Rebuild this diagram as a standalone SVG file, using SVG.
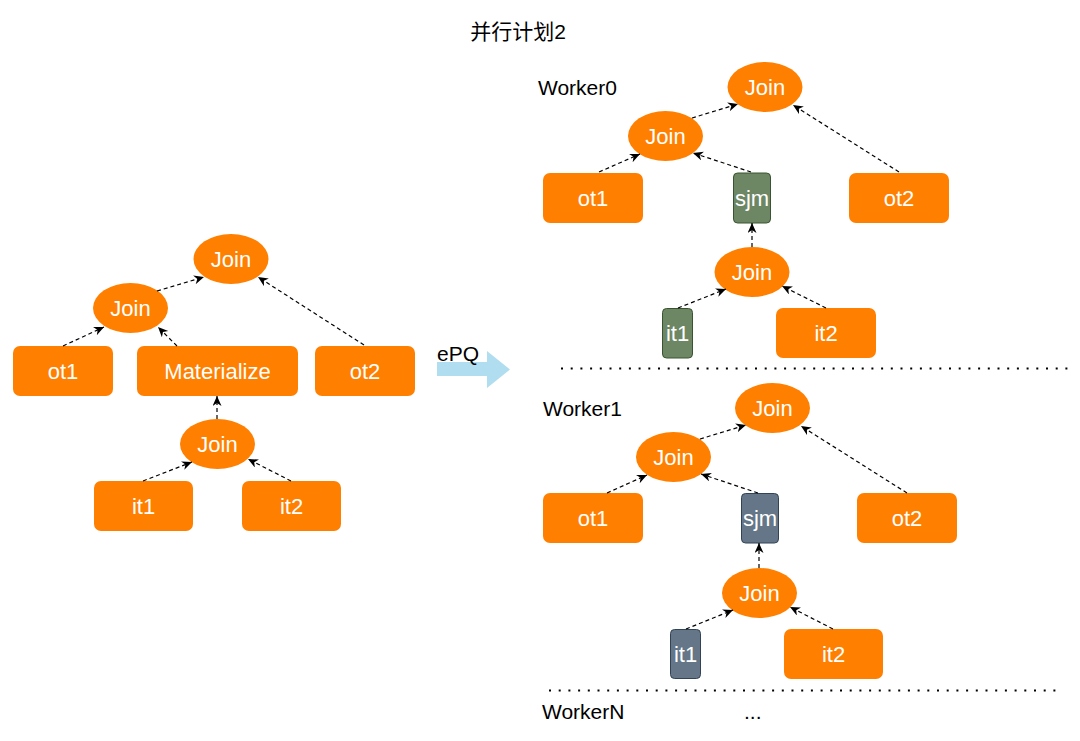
<svg xmlns="http://www.w3.org/2000/svg" width="1080" height="741" viewBox="0 0 1080 741">
<style>
.n{fill:#ff7f00;stroke:none}
.g{fill:#6d8764;stroke:#3a5431;stroke-width:1}
.b{fill:#647687;stroke:#314354;stroke-width:1}
.t{font-family:"Liberation Sans",Arial,sans-serif;font-size:22px;fill:#ffffff;text-anchor:middle;dominant-baseline:central}
.l{font-family:"Liberation Sans","Noto Sans CJK SC",sans-serif;font-size:21px;fill:#000000;dominant-baseline:central}
.e{fill:none;stroke:#000;stroke-width:1.2;stroke-dasharray:4 3;marker-end:url(#ah)}
.d{fill:none;stroke:#000;stroke-width:2;stroke-dasharray:2 7.7}
</style>
<defs>
<marker id="ah" markerUnits="userSpaceOnUse" markerWidth="12" markerHeight="10" refX="10" refY="4.5" orient="auto">
<path d="M0,0 L10,4.5 L0,9 L3,4.5 Z" fill="#000"/>
</marker>
</defs>
<rect width="1080" height="741" fill="#fff"/>
<text class="l" x="518" y="31" text-anchor="middle">并行计划2</text>

<g id="left">
<g id="L-join-top"><ellipse class="n" cx="231" cy="259" rx="37.5" ry="25"/><text class="t" x="231" y="259">Join</text></g>
<g id="L-join-mid"><ellipse class="n" cx="130.5" cy="308" rx="37.5" ry="25"/><text class="t" x="130.5" y="308">Join</text></g>
<g id="L-ot1"><rect class="n" x="13" y="346" width="100" height="50" rx="7"/><text class="t" x="63" y="371">ot1</text></g>
<g id="L-mat"><rect class="n" x="137" y="346" width="161" height="50" rx="7"/><text class="t" x="217.5" y="371">Materialize</text></g>
<g id="L-ot2"><rect class="n" x="315" y="346" width="100" height="50" rx="7"/><text class="t" x="365" y="371">ot2</text></g>
<g id="L-join-bot"><ellipse class="n" cx="217.5" cy="444" rx="37.5" ry="25"/><text class="t" x="217.5" y="444">Join</text></g>
<g id="L-it1"><rect class="n" x="94" y="481" width="99" height="50" rx="7"/><text class="t" x="143.5" y="506">it1</text></g>
<g id="L-it2"><rect class="n" x="242" y="481" width="99" height="50" rx="7"/><text class="t" x="291.5" y="506">it2</text></g>
</g>

<g id="epq">
<path d="M437,362 L487,362 L487,351 L510,369.5 L487,388 L487,376 L437,376 Z" fill="#b1ddf0"/>
<text class="l" x="437" y="353">ePQ</text>
</g>

<g id="worker0">
<text class="l" x="538" y="87">Worker0</text>
<g id="W0-join-top"><ellipse class="n" cx="765" cy="87" rx="37.5" ry="25"/><text class="t" x="765" y="87">Join</text></g>
<g id="W0-join-mid"><ellipse class="n" cx="665.5" cy="136" rx="37.5" ry="25"/><text class="t" x="665.5" y="136">Join</text></g>
<g id="W0-ot1"><rect class="n" x="543" y="173" width="100" height="50" rx="7"/><text class="t" x="593" y="198">ot1</text></g>
<g id="W0-sjm"><rect class="g" x="733.5" y="173" width="37" height="50" rx="4"/><text class="t" x="752" y="198">sjm</text></g>
<g id="W0-ot2"><rect class="n" x="849" y="173" width="100" height="50" rx="7"/><text class="t" x="899" y="198">ot2</text></g>
<g id="W0-join-bot"><ellipse class="n" cx="752" cy="272" rx="37.5" ry="25"/><text class="t" x="752" y="272">Join</text></g>
<g id="W0-it1"><rect class="g" x="662.5" y="308.5" width="30" height="49.5" rx="4"/><text class="t" x="677.5" y="333">it1</text></g>
<g id="W0-it2"><rect class="n" x="776" y="308" width="100" height="50" rx="7"/><text class="t" x="826" y="333">it2</text></g>
</g>

<g id="worker1">
<text class="l" x="543" y="408">Worker1</text>
<g id="W1-join-top"><ellipse class="n" cx="772.5" cy="408" rx="37.5" ry="25"/><text class="t" x="772.5" y="408">Join</text></g>
<g id="W1-join-mid"><ellipse class="n" cx="673.5" cy="457" rx="37.5" ry="25"/><text class="t" x="673.5" y="457">Join</text></g>
<g id="W1-ot1"><rect class="n" x="543" y="493" width="100" height="50" rx="7"/><text class="t" x="593" y="518">ot1</text></g>
<g id="W1-sjm"><rect class="b" x="741.5" y="493.5" width="37" height="49.5" rx="4"/><text class="t" x="760" y="518">sjm</text></g>
<g id="W1-ot2"><rect class="n" x="857" y="493" width="100" height="50" rx="7"/><text class="t" x="907" y="518">ot2</text></g>
<g id="W1-join-bot"><ellipse class="n" cx="759.5" cy="593" rx="37.5" ry="25"/><text class="t" x="759.5" y="593">Join</text></g>
<g id="W1-it1"><rect class="b" x="670.5" y="629.5" width="30" height="49" rx="4"/><text class="t" x="685.5" y="654">it1</text></g>
<g id="W1-it2"><rect class="n" x="784" y="629" width="99" height="50" rx="7"/><text class="t" x="833.5" y="654">it2</text></g>
</g>

<g id="workerN">
<text class="l" x="542" y="711">WorkerN</text>
<text class="l" x="744" y="711">...</text>
</g>

<g id="separators">
<line class="d" x1="561" y1="368.5" x2="1070" y2="368.5"/>
<line class="d" x1="549" y1="690.5" x2="1058" y2="690.5"/>
</g>

<g id="connectors">
<path class="e" d="M157,291 L204,277"/>
<path class="e" d="M364,345 L258,277"/>
<path class="e" d="M63,346 L104,327"/>
<path class="e" d="M177,346 L158,327"/>
<path class="e" d="M217,419 L217,396"/>
<path class="e" d="M143,481 L192,462"/>
<path class="e" d="M291,481 L248,459"/>

<path class="e" d="M692,118 L738,104"/>
<path class="e" d="M899,172 L793,105"/>
<path class="e" d="M599,172 L640,154"/>
<path class="e" d="M751,172 L693,153"/>
<path class="e" d="M752,247 L752,223"/>
<path class="e" d="M678,308 L726,289"/>
<path class="e" d="M826,308 L782,286"/>

<path class="e" d="M700,439 L746,425"/>
<path class="e" d="M907,493 L801,426"/>
<path class="e" d="M607,493 L647,475"/>
<path class="e" d="M758,493 L701,474"/>
<path class="e" d="M759,568 L759,543"/>
<path class="e" d="M686,629 L733,610"/>
<path class="e" d="M833,629 L790,607"/>
</g>
</svg>
